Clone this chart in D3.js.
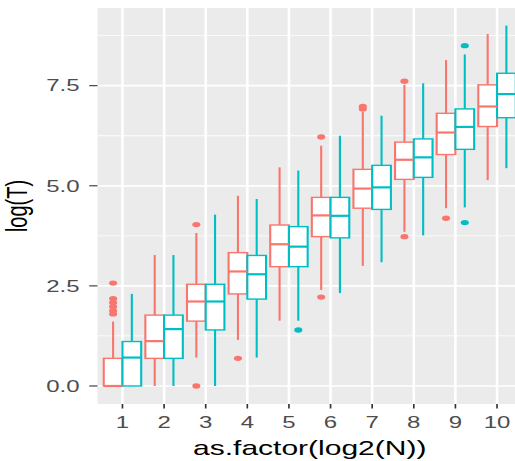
<!DOCTYPE html>
<html>
<head>
<meta charset="utf-8">
<script src="https://cdn.jsdelivr.net/npm/d3@7"></script>
<style>
  html, body { margin: 0; padding: 0; background: #fff; }
  svg { display: block; }
</style>
</head>
<body>
<div id="chart"></div>
<script>
// categories on the x axis (log2(N))
const categories = ["1", "2", "3", "4", "5", "6", "7", "8", "9", "10"];
const groups = ["a", "b"];
const groupColors = ["#F8766D", "#00BFC4"];

// box statistics: lower whisker, Q1, median, Q3, upper whisker
const redLow = [0.00, 0.00, 0.71, 1.15, 1.63, 2.40, 3.00, 3.85, 4.44, 5.14];
const redQ1  = [0.00, 0.69, 1.62, 2.30, 2.98, 3.73, 4.44, 5.16, 5.78, 6.48];
const redMed = [0.00, 1.12, 2.11, 2.86, 3.54, 4.26, 4.93, 5.65, 6.33, 6.98];
const redQ3  = [0.69, 1.77, 2.54, 3.33, 4.02, 4.71, 5.41, 6.09, 6.81, 7.52];
const redHigh= [1.61, 3.27, 3.82, 4.75, 5.46, 6.00, 6.85, 7.52, 8.14, 8.79];
const redOut = [[2.57, 2.18, 2.08, 1.98, 1.88, 1.80], [], [4.03, 0.00], [0.69], [],
                [6.22, 2.22], [6.98, 6.92], [7.61, 3.73], [4.19], []];

const tealLow = [0.00, 0.00, 0.00, 0.71, 1.63, 2.32, 3.09, 3.76, 4.46, 5.44];
const tealQ1  = [0.00, 0.69, 1.40, 2.17, 2.98, 3.70, 4.41, 5.21, 5.91, 6.70];
const tealMed = [0.71, 1.42, 2.11, 2.79, 3.48, 4.25, 4.96, 5.71, 6.47, 7.29];
const tealQ3  = [1.11, 1.77, 2.54, 3.26, 3.98, 4.71, 5.51, 6.17, 6.92, 7.81];
const tealHigh= [2.30, 3.27, 4.28, 4.67, 5.38, 6.25, 6.75, 7.56, 8.28, 9.00];
const tealOut = [[], [], [], [], [1.40], [], [], [], [8.50, 4.08], []];

const yTicks = [0, 2.5, 5, 7.5];
const yMinor = [1.25, 3.75, 6.25, 8.75];

// the picture is stretched sideways, so draw in a narrower space and stretch it
const stretch = 1.5;
const width = 515, height = 461;
const logicalW = width / stretch;

const panel = { left: 65, right: 348, top: 8, bottom: 404 };

const svg = d3.select("#chart")
  .append("svg")
  .attr("width", width)
  .attr("height", height)
  .attr("viewBox", `0 0 ${logicalW} ${height}`)
  .attr("preserveAspectRatio", "none")
  .style("font-family", "'Liberation Sans', Arial, sans-serif");

const x = d3.scalePoint()
  .domain(categories)
  .range([panel.left, panel.right])
  .padding(0.6);

const step = x.step();
const boxW = 0.45 * step;

const xg = d3.scaleBand()
  .domain(groups)
  .range([-0.45 * step, 0.45 * step]);

const y = d3.scaleLinear()
  .domain([-0.45, 9.44])
  .range([panel.bottom, panel.top]);

// panel
svg.append("rect")
  .attr("x", panel.left)
  .attr("y", panel.top)
  .attr("width", panel.right - panel.left)
  .attr("height", panel.bottom - panel.top)
  .attr("fill", "#EBEBEB");

svg.append("g")
  .selectAll("line")
  .data(yMinor)
  .join("line")
  .attr("x1", panel.left).attr("x2", panel.right)
  .attr("y1", d => y(d)).attr("y2", d => y(d))
  .attr("stroke", "#fff").attr("stroke-width", 0.8);

svg.append("g")
  .selectAll("line")
  .data(yTicks)
  .join("line")
  .attr("x1", panel.left).attr("x2", panel.right)
  .attr("y1", d => y(d)).attr("y2", d => y(d))
  .attr("stroke", "#fff").attr("stroke-width", 1.7);

svg.append("g")
  .selectAll("line")
  .data(categories)
  .join("line")
  .attr("x1", d => x(d)).attr("x2", d => x(d))
  .attr("y1", panel.top).attr("y2", panel.bottom)
  .attr("stroke", "#fff").attr("stroke-width", 1.7);

// boxes
const series = [
  { key: "a", low: redLow, q1: redQ1, med: redMed, q3: redQ3, high: redHigh, out: redOut },
  { key: "b", low: tealLow, q1: tealQ1, med: tealMed, q3: tealQ3, high: tealHigh, out: tealOut }
];

const boxes = [];
const outliers = [];
series.forEach((s, si) => {
  categories.forEach((c, i) => {
    boxes.push({ cat: c, key: s.key, color: groupColors[si],
      low: s.low[i], q1: s.q1[i], med: s.med[i], q3: s.q3[i], high: s.high[i] });
    s.out[i].forEach(v => outliers.push({ cat: c, key: s.key, color: groupColors[si], v }));
  });
});

const cx = d => x(d.cat) + xg(d.key) + xg.bandwidth() / 2;

const bg = svg.append("g");

bg.selectAll(".whisker-hi")
  .data(boxes)
  .join("line")
  .attr("x1", cx).attr("x2", cx)
  .attr("y1", d => y(d.q3)).attr("y2", d => y(d.high))
  .attr("stroke", d => d.color).attr("stroke-width", 1.4);

bg.selectAll(".whisker-lo")
  .data(boxes)
  .join("line")
  .attr("x1", cx).attr("x2", cx)
  .attr("y1", d => y(d.q1)).attr("y2", d => y(d.low))
  .attr("stroke", d => d.color).attr("stroke-width", 1.4);

bg.selectAll(".box")
  .data(boxes)
  .join("rect")
  .attr("x", d => cx(d) - boxW / 2)
  .attr("width", boxW)
  .attr("y", d => y(d.q3))
  .attr("height", d => y(d.q1) - y(d.q3))
  .attr("fill", "#fff")
  .attr("stroke", d => d.color)
  .attr("stroke-width", 1.4);

bg.selectAll(".median")
  .data(boxes)
  .join("line")
  .attr("x1", d => cx(d) - boxW / 2).attr("x2", d => cx(d) + boxW / 2)
  .attr("y1", d => y(d.med)).attr("y2", d => y(d.med))
  .attr("stroke", d => d.color).attr("stroke-width", 2.2);

bg.selectAll("circle")
  .data(outliers)
  .join("circle")
  .attr("cx", cx)
  .attr("cy", d => y(d.v))
  .attr("r", 2.7)
  .attr("fill", d => d.color);

// axes
const ax = svg.append("g");

ax.selectAll(".ytick")
  .data(yTicks)
  .join("line")
  .attr("x1", panel.left - 5.5).attr("x2", panel.left)
  .attr("y1", d => y(d)).attr("y2", d => y(d))
  .attr("stroke", "#333").attr("stroke-width", 1.1);

ax.selectAll(".ylab")
  .data(yTicks)
  .join("text")
  .attr("x", panel.left - 12)
  .attr("y", d => y(d))
  .attr("dy", "0.36em")
  .attr("text-anchor", "end")
  .attr("font-size", 16)
  .attr("fill", "#4D4D4D")
  .text(d3.format(".1f"));

ax.selectAll(".xtick")
  .data(categories)
  .join("line")
  .attr("x1", d => x(d)).attr("x2", d => x(d))
  .attr("y1", panel.bottom).attr("y2", panel.bottom + 4.5)
  .attr("stroke", "#333").attr("stroke-width", 1.1);

ax.selectAll(".xlab")
  .data(categories)
  .join("text")
  .attr("x", d => x(d))
  .attr("y", 428)
  .attr("text-anchor", "middle")
  .attr("font-size", 16)
  .attr("fill", "#4D4D4D")
  .text(d => d);

svg.append("text")
  .attr("x", (panel.left + panel.right) / 2)
  .attr("y", 455)
  .attr("text-anchor", "middle")
  .attr("font-size", 20)
  .attr("fill", "#000")
  .text("as.factor(log2(N))");

svg.append("text")
  .attr("transform", `translate(18,${(panel.top + panel.bottom) / 2}) rotate(-90)`)
  .attr("text-anchor", "middle")
  .attr("font-size", 20)
  .attr("fill", "#000")
  .text("log(T)");
</script>
</body>
</html>
